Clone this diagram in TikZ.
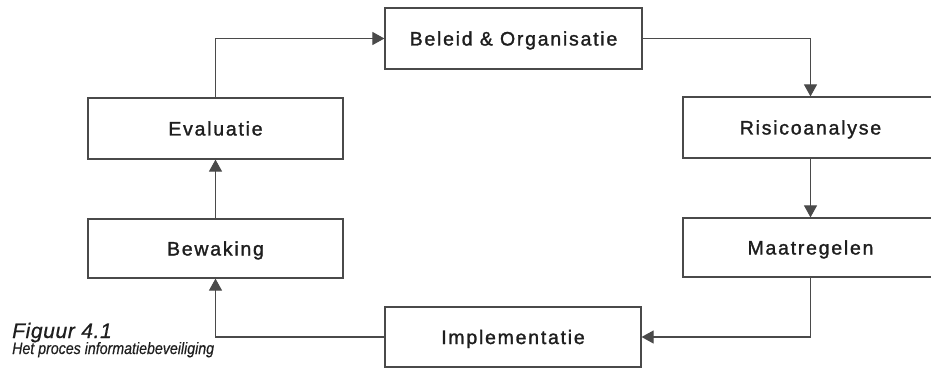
\documentclass[tikz,border=0pt]{standalone}
\usepackage{fontspec}
\setmainfont{Liberation Sans}
\newfontfamily\boxfont{Liberation Sans}[LetterSpace=9, FakeBold=1.4]
\newfontfamily\capfont{Liberation Sans}[FakeBold=0.6, LetterSpace=3]
\newfontfamily\subfont{Liberation Sans}[FakeStretch=0.86, FakeBold=0.3]
\usetikzlibrary{arrows.meta}
\definecolor{inkline}{HTML}{4A4A4A}
\definecolor{inktext}{HTML}{1E1E1E}
\tikzset{
  stepbox/.style={draw=inkline, line width=1.2pt, fill=white,
    minimum width=255pt, minimum height=61pt, inner sep=0pt,
    font=\boxfont\fontsize{19.5pt}{22pt}\selectfont, text=inktext,
    text height=14pt, text depth=0pt},
  flow/.style={draw=inkline, line width=1.1pt,
    -{Triangle[length=12pt,width=13pt]}},
}
\begin{document}
\begin{tikzpicture}[x=1pt, y=-1pt]
  \useasboundingbox (0,0) rectangle (931,374);
  \clip (0,0) rectangle (931,374);
  \fill[white] (0,0) rectangle (931,374);

  % process steps
  \node[stepbox, minimum width=257pt] (beleid) at (513.5,38.5) {Beleid \& Organisatie};
  \node[stepbox] (risico) at (810.5,127.5) {Risicoanalyse};
  \node[stepbox, minimum height=59pt] (maatregelen) at (810.5,247.5) {Maatregelen};
  \node[stepbox, minimum width=256pt, minimum height=60pt] (implementatie) at (513,337) {Implementatie};
  \node[stepbox, minimum height=59pt] (bewaking) at (215.5,248.5) {Bewaking};
  \node[stepbox] (evaluatie) at (215.5,128.5) {Evaluatie};

  % cycle connectors
  \draw[flow] (beleid.east) -| (risico.north);
  \draw[flow] (risico.south) -- (maatregelen.north);
  \draw[flow] (maatregelen.south) |- (implementatie.east);
  \draw[flow] (implementatie.west) -| (bewaking.south);
  \draw[flow] (bewaking.north) -- (evaluatie.south);
  \draw[flow] (evaluatie.north) |- (beleid.west);

  % caption
  \node[anchor=base west, inner sep=0pt, text=inktext,
        font=\capfont\itshape\fontsize{21pt}{23pt}\selectfont] (figno) at (12,338) {Figuur 4.1};
  \node[anchor=base west, inner sep=0pt, text=inktext,
        font=\subfont\itshape\fontsize{16.5pt}{18pt}\selectfont] (figtitle) at (12,354) {Het proces informatiebeveiliging};
\end{tikzpicture}
\end{document}
